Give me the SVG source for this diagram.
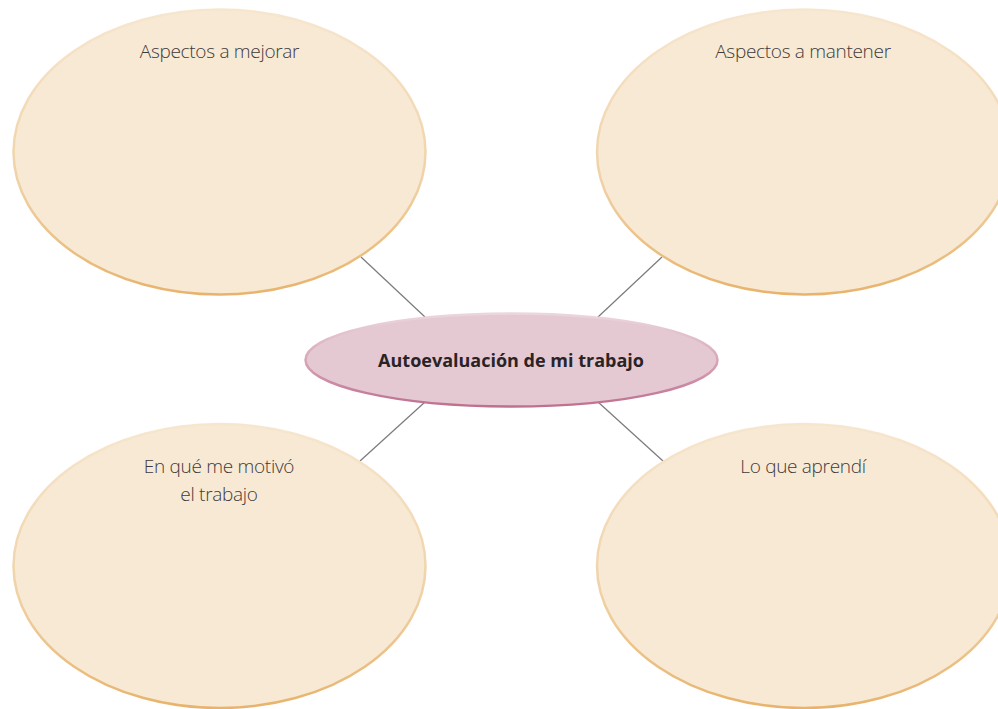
<svg xmlns="http://www.w3.org/2000/svg" width="998" height="709" viewBox="0 0 998 709">
<defs>
<linearGradient id="rimGrad" x1="0" y1="0" x2="0" y2="1">
<stop offset="0" stop-color="#f7e6cf"/>
<stop offset="0.6" stop-color="#efd2a6"/>
<stop offset="1" stop-color="#e8b36c"/>
</linearGradient>
<linearGradient id="pinkRim" x1="0" y1="0" x2="0" y2="1">
<stop offset="0" stop-color="#ecd6de"/>
<stop offset="0.5" stop-color="#d8a6b8"/>
<stop offset="1" stop-color="#bf6f8f"/>
</linearGradient>
</defs>
<style>
.bubble{fill:#f8e9d4;stroke:url(#rimGrad);stroke-width:2.5}
.center{fill:#e4c9d3;stroke:url(#pinkRim);stroke-width:2.5}
.lbl{font-family:"Open Sans","Liberation Sans",sans-serif;font-weight:300;font-size:19px;letter-spacing:-0.3px;fill:#3e3a3a;text-anchor:middle}
.title{font-family:"Open Sans","Liberation Sans",sans-serif;font-weight:700;font-size:18px;fill:#2a2326;text-anchor:middle}
.conn{stroke:#7a7a7a;stroke-width:1.2;fill:none}
</style>
<rect width="998" height="709" fill="#ffffff"/>
<g id="connectors">
<line class="conn" x1="361" y1="257" x2="425" y2="317"/>
<line class="conn" x1="662" y1="257" x2="598" y2="317"/>
<line class="conn" x1="425" y1="402" x2="360" y2="461"/>
<line class="conn" x1="598" y1="402" x2="663" y2="461"/>
</g>
<g id="aspectos-mejorar">
<ellipse class="bubble" cx="219.5" cy="152" rx="206" ry="142.5"/>
<text class="lbl" x="219.5" y="58">Aspectos a mejorar</text>
</g>
<g id="aspectos-mantener">
<ellipse class="bubble" cx="804" cy="152" rx="207" ry="142.5"/>
<text class="lbl" x="803" y="58">Aspectos a mantener</text>
</g>
<g id="motivo">
<ellipse class="bubble" cx="219.5" cy="566" rx="206" ry="142"/>
<text class="lbl" x="219" y="473">En qué me motivó</text>
<text class="lbl" x="219" y="501">el trabajo</text>
</g>
<g id="aprendi">
<ellipse class="bubble" cx="804" cy="566" rx="207" ry="142"/>
<text class="lbl" x="803" y="473">Lo que aprendí</text>
</g>
<g id="autoevaluacion">
<ellipse class="center" cx="511.5" cy="360" rx="206" ry="46.5"/>
<text class="title" x="511" y="366.5">Autoevaluación de mi trabajo</text>
</g>
</svg>
